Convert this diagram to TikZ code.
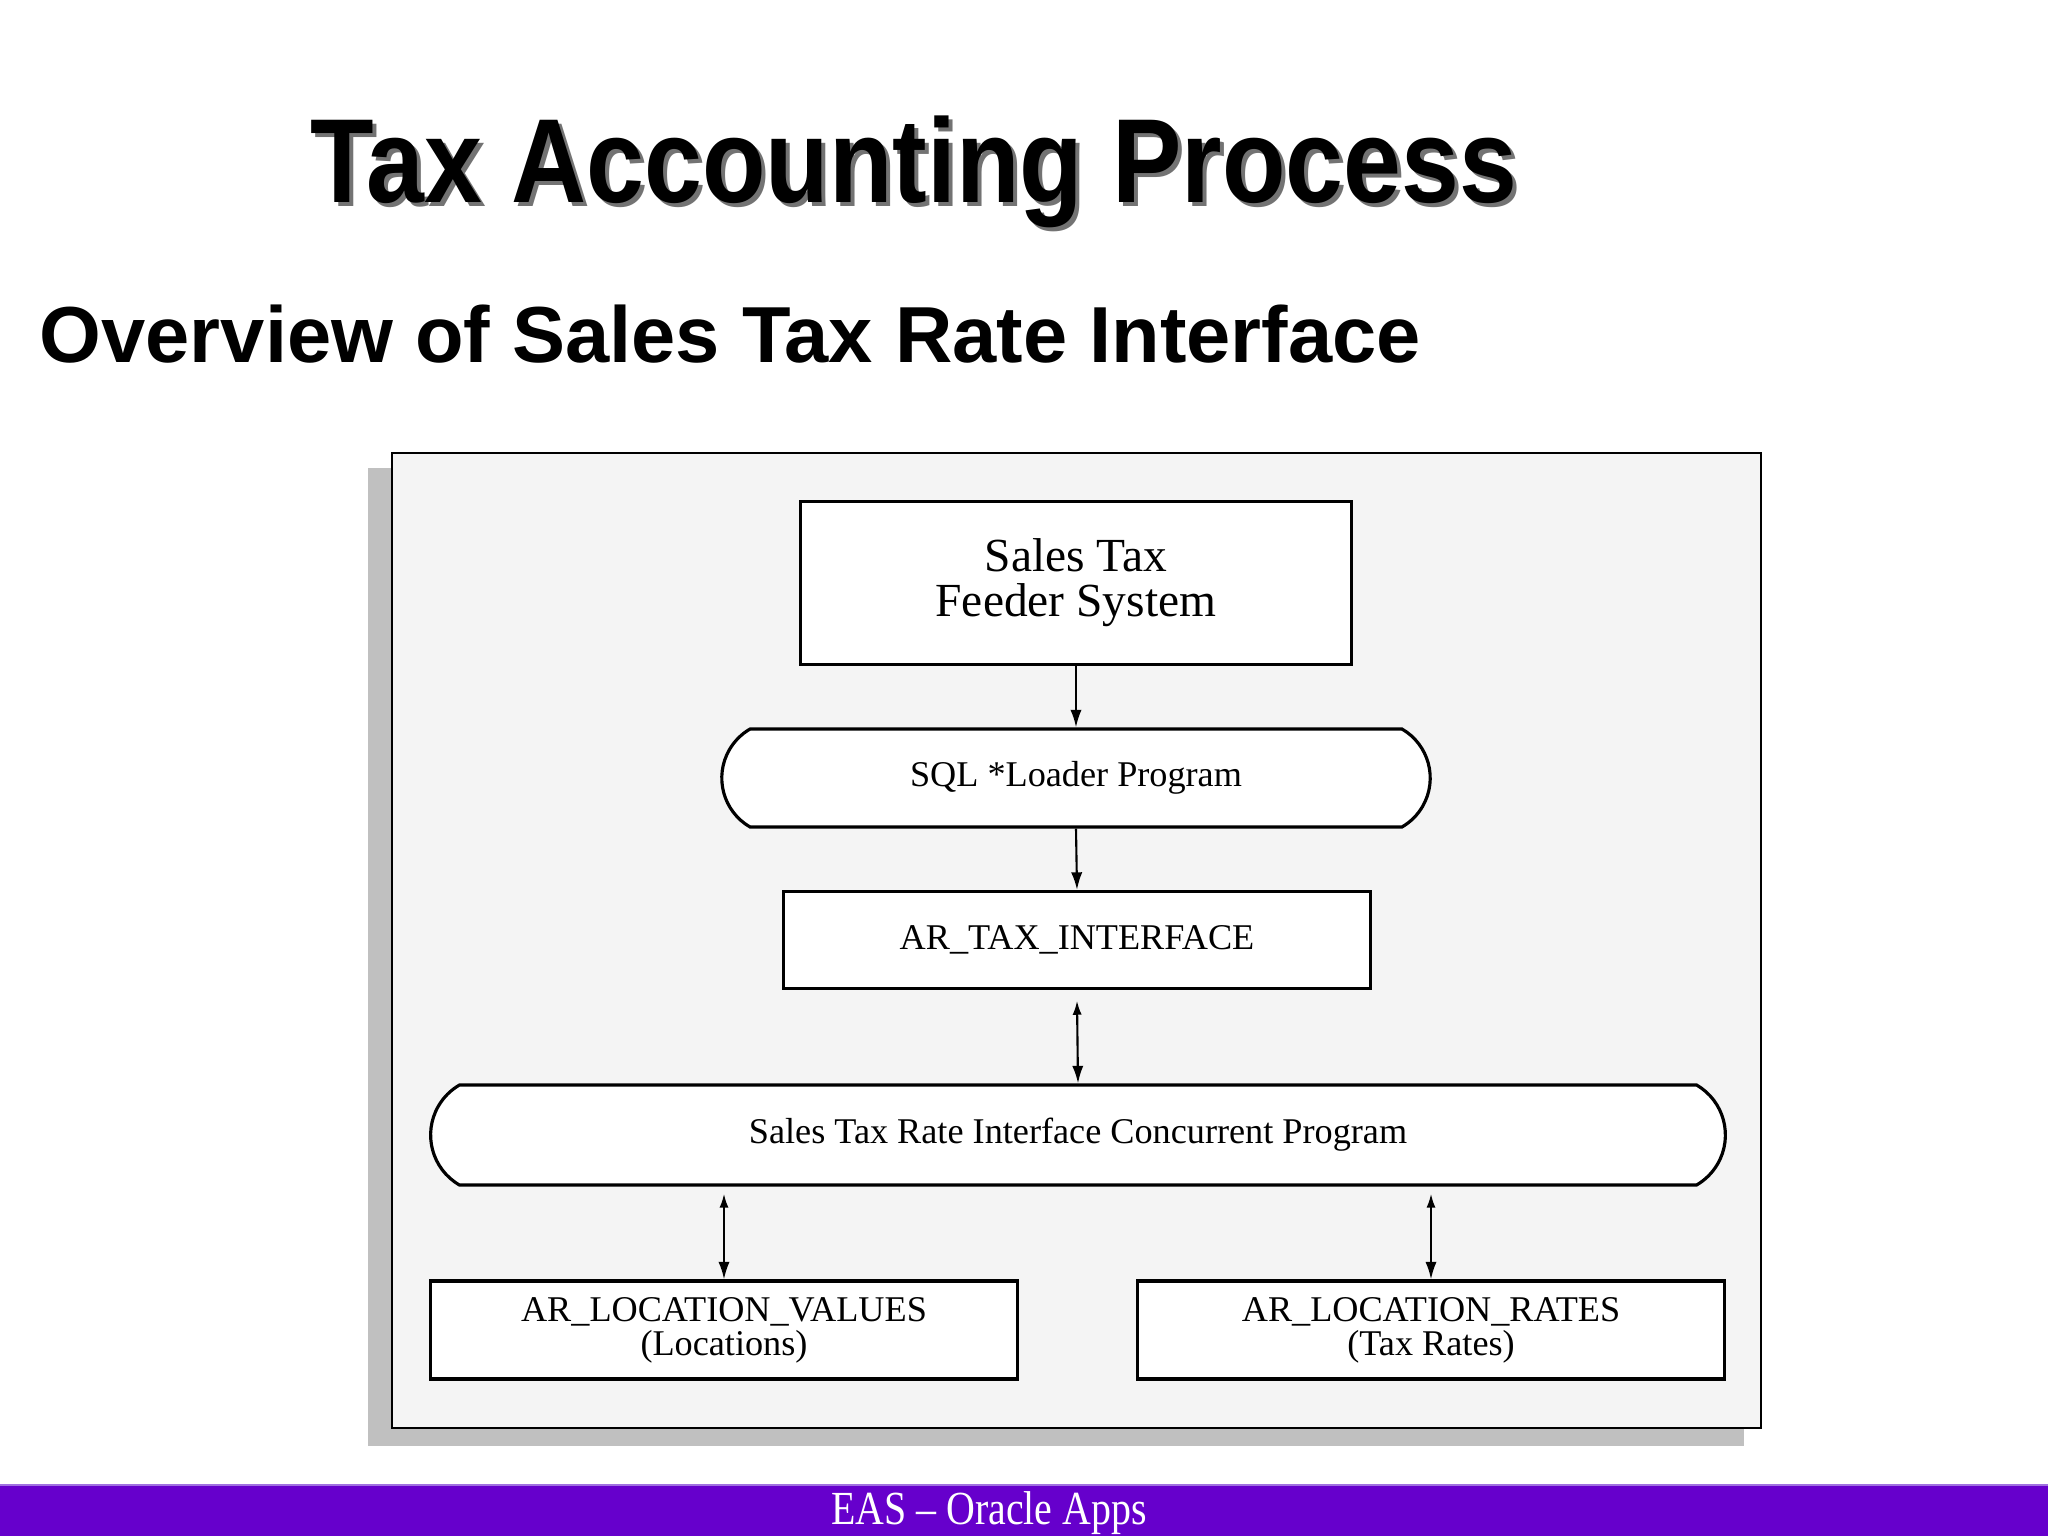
\documentclass[tikz,border=0pt]{standalone}
\usepackage{fontspec}
\setmainfont{Liberation Serif}
\newfontfamily\arialf{Liberation Sans}
\usetikzlibrary{arrows.meta,shapes.misc}
\definecolor{panelbg}{HTML}{F4F4F4}
\definecolor{shadowgray}{HTML}{C0C0C0}
\definecolor{barpurple}{HTML}{6600CC}
\definecolor{barline}{HTML}{A070E0}
\tikzset{
  boxnode/.style={draw=black, line width=0.9pt, fill=white, inner sep=0pt, align=center, font=\fontsize{10.3}{9.7}\selectfont},
  pillnode/.style={boxnode, rounded rectangle, rounded rectangle arc length=120},
  flowarrow/.style={line width=0.6pt, -{Latex[length=5pt,width=3.2pt]}},
  dblarrow/.style={line width=0.6pt, {Latex[length=4pt,width=2.6pt]}-{Latex[length=5pt,width=3.2pt]}},
}
\begin{document}
\begin{tikzpicture}[x=0.01cm,y=-0.01cm]
\useasboundingbox (0,0) rectangle (2048,1536);
\fill[white] (0,0) rectangle (2048,1536);

% titles
\node[anchor=base, text=black!55, inner sep=0pt] (titleshadow) at (918,206)
  {\scalebox{0.87}[1]{\arialf\bfseries\fontsize{34}{40}\selectfont Tax Accounting Process}};
\node[anchor=base, inner sep=0pt] (title) at (914,202)
  {\scalebox{0.87}[1]{\arialf\bfseries\fontsize{34}{40}\selectfont Tax Accounting Process}};
\node[anchor=base west, inner sep=0pt] (subtitle) at (39,362)
  {\arialf\bfseries\fontsize{22.6}{27}\selectfont Overview of Sales Tax Rate Interface};

% panel
\fill[shadowgray] (368,468) rectangle (1744,1446);
\draw[fill=panelbg, line width=0.6pt] (392,453) rectangle (1761,1428);

% nodes
\node[boxnode, minimum width=5.51cm, minimum height=1.63cm, font=\fontsize{13.5}{12.8}\selectfont] (feeder) at (1076,583) {Sales Tax\\Feeder System};
\node[pillnode, minimum width=7.08cm, minimum height=0.98cm] (sql) at (1076,778) {SQL *Loader Program};
\node[boxnode, minimum width=5.87cm, minimum height=0.97cm] (taxif) at (1077,940) {AR\_TAX\_INTERFACE};
\node[pillnode, minimum width=12.94cm, minimum height=1.00cm] (conc) at (1078,1135) {Sales Tax Rate Interface Concurrent Program};
\node[boxnode, minimum width=5.86cm, minimum height=0.98cm] (locv) at (724,1330) {AR\_LOCATION\_VALUES\\(Locations)};
\node[boxnode, minimum width=5.87cm, minimum height=0.98cm] (locr) at (1431,1330) {AR\_LOCATION\_RATES\\(Tax Rates)};

% connectors
\draw[flowarrow] (feeder.south) -- (sql.north);
\draw[flowarrow] (sql.south) -- (taxif.north);
\draw[dblarrow] ([yshift=-3]taxif.south) -- (conc.north);
\draw[dblarrow] ([yshift=-2]conc.south -| locv.north) -- (locv.north);
\draw[dblarrow] ([yshift=-2]conc.south -| locr.north) -- (locr.north);

% footer bar
\fill[barpurple] (0,1485) rectangle (2048,1536);
\draw[barline, line width=0.6pt] (0,1485) -- (2048,1485);
\node[anchor=base, text=white, inner sep=0pt] (footer) at (989,1524)
  {\scalebox{0.84}[1]{\fontsize{13.5}{16}\selectfont EAS -- Oracle Apps}};
\end{tikzpicture}
\end{document}
